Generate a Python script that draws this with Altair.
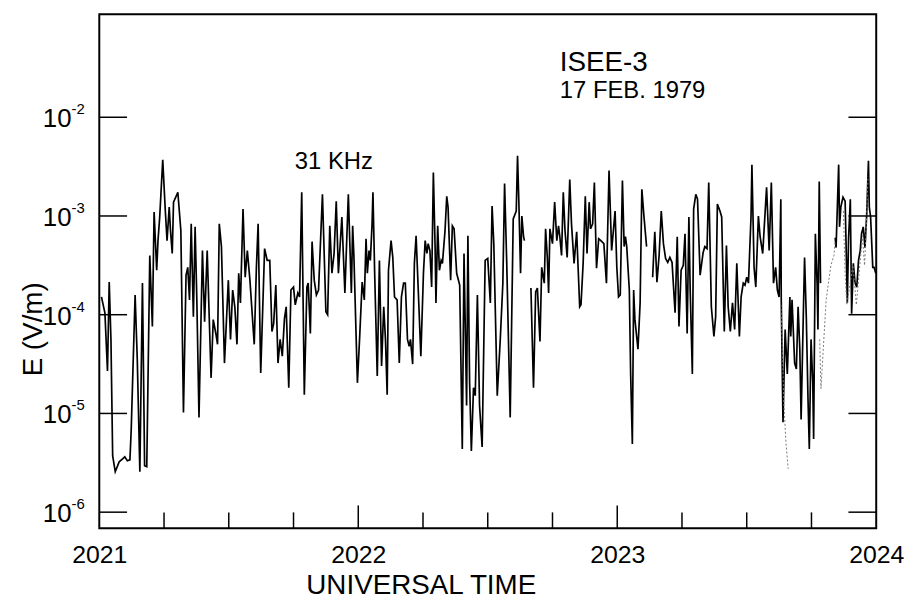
import altair as alt
import pandas as pd

# Time axis: minutes after 20:21 UT ; values: log10 of E (V/m)
seg_a_t = [0.5, 1.3, 1.9, 2.3, 2.7, 3.1, 3.7, 4.6, 5.4, 5.9, 6.5, 7.1, 7.4, 8.3, 8.8, 9.4, 10.0, 10.5, 11.0, 11.7,
           12.3, 12.7, 13.3, 13.6, 14.0, 14.7, 15.3, 15.7, 16.2, 16.5, 16.9, 17.2, 18.2, 18.9, 19.5, 20.1, 20.5, 20.9,
           21.3, 21.8, 22.2, 22.6, 23.1, 23.9, 24.4, 25.0, 25.9, 26.4, 27.0, 27.4, 27.8, 28.3, 29.0, 29.9,
           30.4, 30.9, 31.4, 31.9, 32.3, 32.7, 33.3, 33.8, 34.3, 34.9, 35.9, 36.4, 36.8, 37.4, 38.3, 38.9, 39.5,
           40.0, 40.4, 40.9, 41.4, 41.9, 42.4, 42.9, 43.3, 43.9, 44.4, 45.0, 45.4, 46.0, 46.4, 46.9, 47.5, 48.1,
           48.4, 48.9, 49.3, 49.8, 50.3, 50.8, 51.7, 52.5, 52.9, 53.4, 53.9, 54.4, 54.9, 55.4, 56.2, 56.9, 57.7,
           58.4, 58.7, 59.0, 59.8, 60.3, 60.9, 61.4, 61.8, 62.1, 62.5, 62.8, 63.2, 63.4, 63.8, 64.4, 64.9, 65.4,
           65.9, 66.3, 66.7, 67.0, 67.6, 68.0, 68.4, 69.0, 69.5, 70.0, 70.5, 70.9, 71.4, 71.8, 72.1, 72.6, 73.0,
           73.4, 73.9, 74.5, 75.1, 75.5, 75.9, 76.2, 76.6, 77.0, 77.4, 77.8, 78.0, 78.4, 78.8, 79.2, 79.5, 80.1,
           80.5, 80.8, 81.4, 81.8, 82.2, 82.8, 83.5, 84.1, 84.5, 85.1, 85.4, 85.8, 86.2, 86.7, 87.1, 87.6, 88.1,
           88.7, 89.4, 90.0, 90.6, 91.0, 91.4, 92.2, 92.9, 93.5, 93.9, 94.4, 95.2, 95.9, 96.6, 96.9, 97.2, 97.6,
           97.9, 98.3, 98.5]
seg_a_log = [-3.82, -3.98, -4.57, -3.67, -4.25, -5.43, -5.59, -5.49, -5.46, -5.44, -5.48, -5.47, -5.16, -3.80, -4.45,
             -5.59, -3.68, -5.53, -5.54, -3.40, -4.12, -2.96, -3.55, -3.25, -3.01, -2.43, -2.95, -3.25, -2.91, -3.15,
             -3.38, -2.86, -2.76, -3.15, -4.99, -3.60, -3.52, -3.85, -3.08, -4.02, -3.11, -3.85, -5.04, -3.35, -4.07,
             -3.35, -4.64, -4.05, -4.19, -4.30, -3.08, -3.31, -4.49, -3.65,
             -4.25, -3.75, -3.92, -4.30, -3.58, -3.88, -2.93, -3.62, -3.35, -3.65, -4.30, -3.52, -3.08, -4.59, -3.33,
             -3.45, -3.45, -4.17, -4.09, -3.70, -4.49, -4.25, -4.42, -4.04, -3.92, -4.74, -3.75, -3.72, -3.90, -3.78,
             -3.82, -2.76, -4.81, -3.72, -3.68, -4.19, -3.26, -3.65, -3.80, -3.75, -2.78, -3.97, -4.00, -3.10, -3.58,
             -3.38, -2.85, -3.58, -3.01, -3.78, -2.78,
             -3.78, -3.10, -3.42, -4.69, -4.25, -3.67, -3.85, -3.23, -3.58, -3.35, -3.45, -3.08, -2.76, -3.58, -4.62,
             -3.45, -4.52, -3.92, -4.25, -4.81, -3.55, -3.25, -3.42, -3.82, -3.85, -4.49, -3.82, -3.68, -3.68, -4.25,
             -4.32, -4.25, -4.50, -3.48, -3.20, -3.75, -4.42, -3.58, -3.25, -3.38, -3.28, -3.35, -3.72, -2.56, -3.31,
             -3.88, -3.10, -3.55, -3.45, -3.48, -3.15, -2.80, -2.91, -3.65, -3.10, -3.13, -3.58, -3.70, -5.36, -3.38,
             -4.92, -3.20, -4.69, -5.38, -4.74, -4.82, -3.80, -4.92, -5.34, -3.45, -3.43, -3.88, -2.90, -3.28, -4.82,
             -4.25, -3.68, -2.67, -3.48, -5.04, -3.03, -2.95, -2.39, -2.85, -3.58, -3.00, -3.21, -3.25]

seg_b_t = [100.0, 100.6, 101.1, 101.5, 102.1, 102.5, 103.1, 103.4, 103.8, 104.1, 104.4, 105.0, 105.5, 106.0, 106.4,
           106.7, 107.1, 107.5, 107.9, 108.4, 109.0, 109.4, 110.0, 110.6, 111.3, 111.6, 112.1, 112.6, 113.0, 113.5,
           113.8, 114.3, 114.7, 115.2, 115.7, 116.2, 116.9, 117.5, 118.1, 118.7, 119.5, 119.9, 120.3, 120.7, 121.2,
           121.6, 121.9, 122.2, 122.8, 123.1, 123.5, 123.8, 124.1, 124.8, 125.3, 125.7, 126.2, 126.8]
seg_b_log = [-3.73, -4.74, -3.77, -3.73, -4.27, -3.52, -3.68, -3.13, -3.42, -3.78, -3.13, -3.28, -2.86, -3.25, -3.10,
             -3.21, -3.40, -2.76, -3.15, -3.42, -2.63, -3.08, -3.48, -3.16, -3.92, -3.90, -3.48, -2.80, -3.38, -2.86,
             -3.13, -3.08, -2.66, -3.53, -3.23, -3.25, -3.28, -3.68, -2.54, -3.35, -2.95, -3.52, -3.82, -3.80, -2.64,
             -3.31, -3.21, -3.31, -3.75, -4.59, -5.31, -3.75, -4.05, -4.35, -3.88, -2.73, -3.01, -3.31]

seg_c_t = [128.2, 128.7, 129.2, 129.7, 130.2, 130.7, 131.2, 131.7, 132.2, 132.7, 133.4, 133.9, 134.3, 134.8, 135.3,
           135.7, 136.2, 136.6, 136.9, 137.4, 137.7, 138.2, 138.6, 139.2, 139.9, 140.3, 140.8, 141.2, 141.8, 142.4,
           142.8, 143.2, 143.8, 144.2, 144.8, 145.3, 145.7, 146.2, 146.7, 147.2, 147.7, 148.3, 148.7, 149.2, 149.6,
           150.0, 150.4, 151.0, 151.2, 151.7, 152.1, 152.7, 153.1, 153.7, 154.6, 155.2, 155.7, 156.2, 156.7, 157.1,
           157.5, 157.9, 158.0, 158.4, 158.9, 159.4, 160.0, 160.2, 160.5, 161.1, 161.5, 161.9, 162.3, 162.6, 163.1,
           163.4, 163.8, 164.2, 164.5, 164.9, 165.3, 165.5, 165.9, 166.3, 166.5, 166.8, 167.1]
seg_c_log = [-3.62, -3.16, -3.67, -3.40, -2.95, -3.28, -3.43, -3.47, -3.42, -3.47, -3.98, -3.21, -4.12, -3.55, -3.50,
             -3.18, -4.19, -3.01, -3.75, -4.60, -2.93, -2.78, -2.83, -3.60, -3.37, -3.31, -3.33, -2.66, -3.92, -4.22,
             -4.02, -2.88, -2.95, -3.01, -4.17, -3.30, -3.92, -4.17, -3.88, -4.15, -3.48, -4.22, -3.82, -3.68, -3.70,
             -3.62, -3.68, -3.00, -2.48, -3.52, -3.72, -3.00, -3.21, -3.38, -2.71, -3.35, -2.66, -3.68, -3.52, -3.75,
             -3.82, -2.83, -3.85, -5.09, -4.15, -4.60, -3.82, -4.22, -3.85, -4.49, -4.55, -3.92, -4.35, -5.06, -4.02,
             -3.42, -4.02, -4.86, -5.36, -4.25, -4.69, -5.26, -3.18, -3.68, -4.15, -2.65, -3.68]

seg_d_t = [170.5, 170.7, 171.3, 171.5, 171.8, 172.3, 172.8, 173.0, 173.3, 173.6, 174.0, 174.3, 174.7, 175.1, 175.5,
           175.9, 176.3, 176.6, 177.0, 177.4, 177.8, 178.2, 178.4, 178.7, 179.2, 179.5, 179.9]
seg_d_log = [-3.22, -3.32, -2.48, -3.11, -2.91, -2.81, -2.85, -3.25, -3.88, -3.22, -2.83, -3.99, -3.48, -3.68, -3.72,
             -3.45, -3.35, -3.18, -3.11, -3.32, -2.98, -2.44, -2.91, -3.01, -3.52, -3.52, -3.58]

# faint (grey, broken) trace near the end of the interval
faint_a_t = [157.9, 158.2, 158.6, 159.1, 159.6]
faint_a_log = [-3.90, -4.25, -4.90, -5.30, -5.56]
faint_b_t = [166.9, 167.2, 167.6, 167.9, 168.4, 168.8, 169.5, 170.2, 170.5]
faint_b_log = [-4.25, -4.75, -4.45, -4.22, -3.85, -3.72, -3.50, -3.40, -3.25]
faint_c_t = [172.4, 172.8, 173.2, 174.6, 175.4, 176.0, 176.8, 177.3, 177.7, 178.1]
faint_c_log = [-2.95, -3.60, -3.90, -3.50, -3.90, -3.60, -3.20, -3.50, -3.10, -2.60]

x_label_values = [0, 60, 120, 180]
x_label_text = ["2021", "2022", "2023", "2024"]
x_minor_ticks = [15, 30, 45, 75, 90, 105, 135, 150, 165]
x_major_ticks = [60, 120]
y_decades = [1e-2, 1e-3, 1e-4, 1e-5, 1e-6]
y_exponents = ["-2", "-3", "-4", "-5", "-6"]

ann_text = ["ISEE-3", "17 FEB. 1979", "31 KHz"]
ann_t = [106.7, 106.7, 45.3]
ann_log = [-1.53, -1.81, -2.525]
ann_size = [28, 24, 24]


def build(segs):
    rows = []
    for i, (ts, ls) in enumerate(segs):
        for t, l in zip(ts, ls):
            rows.append({"t": t, "E": 10 ** l, "seg": i})
    return pd.DataFrame(rows)


main_df = build([(seg_a_t, seg_a_log), (seg_b_t, seg_b_log), (seg_c_t, seg_c_log), (seg_d_t, seg_d_log)])
faint_df = build([(faint_a_t, faint_a_log), (faint_b_t, faint_b_log), (faint_c_t, faint_c_log)])
dec_df = pd.DataFrame({"E": y_decades, "exp": y_exponents})
minor_df = pd.DataFrame({"t": x_minor_ticks})
major_df = pd.DataFrame({"t": x_major_ticks})
ann_df = pd.DataFrame({"label": ann_text, "t": ann_t, "E": [10 ** v for v in ann_log], "fs": ann_size})

W, H = 783, 518
FONT = "Liberation Sans"
xscale = alt.Scale(domain=[0, 180], nice=False, zero=False)
yscale = alt.Scale(type="log", domain=[10 ** -6.163, 10 ** -0.957], nice=False)

label_expr = "['" + "','".join(x_label_text) + "'][round(datum.value / 60)]"

x_axis = alt.Axis(values=x_label_values, labelExpr=label_expr, ticks=False, domain=False, grid=False,
                  labelFontSize=25, labelFont=FONT, labelColor="black", labelFlush=False,
                  labelBaseline="alphabetic", labelPadding=35,
                  title="UNIVERSAL TIME", titleFont=FONT, titleFontSize=28, titleFontWeight="normal",
                  titleColor="black", titleX=324, titleY=66, titleBaseline="alphabetic", titleAlign="center")
y_axis = alt.Axis(labels=False, ticks=False, domain=False, grid=False,
                  title="E (V/m)", titleFont=FONT, titleFontSize=28, titleFontWeight="normal",
                  titleColor="black", titleX=-58, titleY=317, titleAngle=270, titleAlign="center",
                  titleBaseline="alphabetic")


def X():
    return alt.X("t:Q", scale=xscale, axis=x_axis, title="UNIVERSAL TIME")


def Y():
    return alt.Y("E:Q", scale=yscale, axis=y_axis, title="E (V/m)")


main = alt.Chart(main_df).mark_line(color="black", strokeWidth=1.7).encode(x=X(), y=Y(), detail="seg:N")
faint = alt.Chart(faint_df).mark_line(color="#7a7a7a", strokeWidth=1, strokeDash=[2, 2]).encode(
    x=X(), y=Y(), detail="seg:N")
minor = alt.Chart(minor_df).mark_rule(color="black", strokeWidth=1.5).encode(
    x=X(), y=alt.value(H), y2=alt.value(H - 16))
major = alt.Chart(major_df).mark_rule(color="black", strokeWidth=1.5).encode(
    x=X(), y=alt.value(H), y2=alt.value(H - 23))
ytick_l = alt.Chart(dec_df).mark_rule(color="black", strokeWidth=1.5).encode(
    y=Y(), x=alt.value(0), x2=alt.value(28))
ytick_r = alt.Chart(dec_df).mark_rule(color="black", strokeWidth=1.5).encode(
    y=Y(), x=alt.value(W - 28), x2=alt.value(W))
ylab10 = alt.Chart(dec_df).mark_text(align="right", baseline="alphabetic", dy=10, fontSize=26, font=FONT,
                                     color="black").encode(
    y=Y(), x=alt.value(-28), text=alt.value("10"))
ylabexp = alt.Chart(dec_df).mark_text(align="left", baseline="alphabetic", dy=-3, fontSize=15, font=FONT,
                                      color="black").encode(
    y=Y(), x=alt.value(-28), text="exp:N")
ann = alt.Chart(ann_df).mark_text(align="left", baseline="alphabetic", font=FONT, color="black").encode(
    x=X(), y=Y(), text="label:N",
    size=alt.Size("fs:Q", scale=None, legend=None),
)

chart = alt.layer(main, faint, minor, major, ytick_l, ytick_r, ylab10, ylabexp, ann).properties(
    width=W, height=H,
    autosize=alt.AutoSizeParams(type="none"),
    padding={"left": 92, "top": 4, "right": 28, "bottom": 74},
    background="white",
).configure(font=FONT).configure_view(stroke="black", strokeWidth=2)

chart.save("out.html", embed_options={"renderer": "svg", "actions": False})
